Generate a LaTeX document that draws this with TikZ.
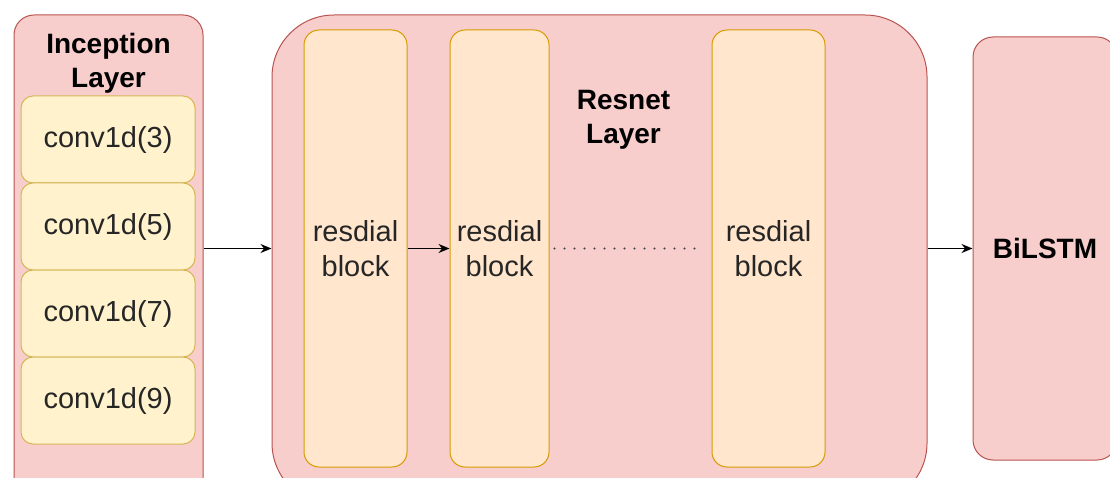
\documentclass[tikz,border=0pt]{standalone}
\usepackage{fontspec}
\setmainfont{Liberation Sans}
\usetikzlibrary{arrows.meta}
\definecolor{redfill}{HTML}{F8CECC}
\definecolor{redline}{HTML}{B85450}
\definecolor{yelfill}{HTML}{FFF2CC}
\definecolor{yelline}{HTML}{D6B656}
\definecolor{orafill}{HTML}{FFE6CC}
\definecolor{oraline}{HTML}{D79B00}
\definecolor{txt}{HTML}{262626}
\tikzset{
  layerbox/.style={draw=redline, fill=redfill, line width=1pt, rectangle, inner sep=0pt},
  convbox/.style={draw=yelline, fill=yelfill, line width=1pt, rectangle, rounded corners=12pt,
    minimum width=174pt, minimum height=87pt, inner sep=0pt, text=txt,
    font=\fontsize{29}{35}\selectfont},
  resbox/.style={draw=oraline, fill=orafill, line width=1pt, rectangle, rounded corners=15pt,
    minimum height=437pt, inner sep=0pt, align=center, text=txt,
    font=\fontsize{29}{35}\selectfont},
  title/.style={font=\bfseries\fontsize{28}{34}\selectfont, align=center, inner sep=0pt, text=black},
  conn/.style={draw=black, line width=1.5pt, -{Stealth[length=11pt,width=9pt]}},
  dotline/.style={draw=black!75, line width=2.2pt, line cap=round, dash pattern=on 0pt off 10pt}
}
\begin{document}
\begin{tikzpicture}[x=1pt,y=-1pt]
\useasboundingbox (0,0) rectangle (1110,478);
\clip (0,0) rectangle (1110,478);
% Inception layer
\node[layerbox, rounded corners=20pt, minimum width=189pt, minimum height=485pt] (incep) at (108.5,257.5) {};
\node[title] (inceptitle) at (108.5,63) {Inception\\Layer};
\node[convbox] (c3) at (108,139.5) {\raisebox{-2pt}{conv1d(3)}};
\node[convbox] (c5) at (108,226.5) {\raisebox{-2pt}{conv1d(5)}};
\node[convbox] (c7) at (108,313.5) {\raisebox{-2pt}{conv1d(7)}};
\node[convbox] (c9) at (108,400.5) {\raisebox{-2pt}{conv1d(9)}};
% Resnet layer
\node[layerbox, rounded corners=62pt, minimum width=655pt, minimum height=490pt] (resnet) at (599.5,260) {};
\node[title] (restitle) at (623.5,120) {Resnet\\Layer};
\node[resbox, minimum width=103pt] (b1) at (355.5,248.5) {resdial\\block};
\node[resbox, minimum width=99pt] (b2) at (499.5,248.5) {resdial\\block};
\node[resbox, minimum width=113pt] (b3) at (768.5,248.5) {resdial\\block};
% BiLSTM
\node[layerbox, rounded corners=20pt, minimum width=144pt, minimum height=423pt,
      font=\bfseries\fontsize{28}{34}\selectfont] (bil) at (1045,248.5) {BiLSTM};
% connectors
\draw[conn] (incep.east |- b1) -- (resnet.west |- b1);
\draw[conn] (b1.east) -- (b2.west);
\draw[dotline, shorten <=5pt, shorten >=9pt] (b2.east) -- (b3.west);
\draw[conn] (resnet.east |- bil) -- (bil.west);
\end{tikzpicture}
\end{document}
